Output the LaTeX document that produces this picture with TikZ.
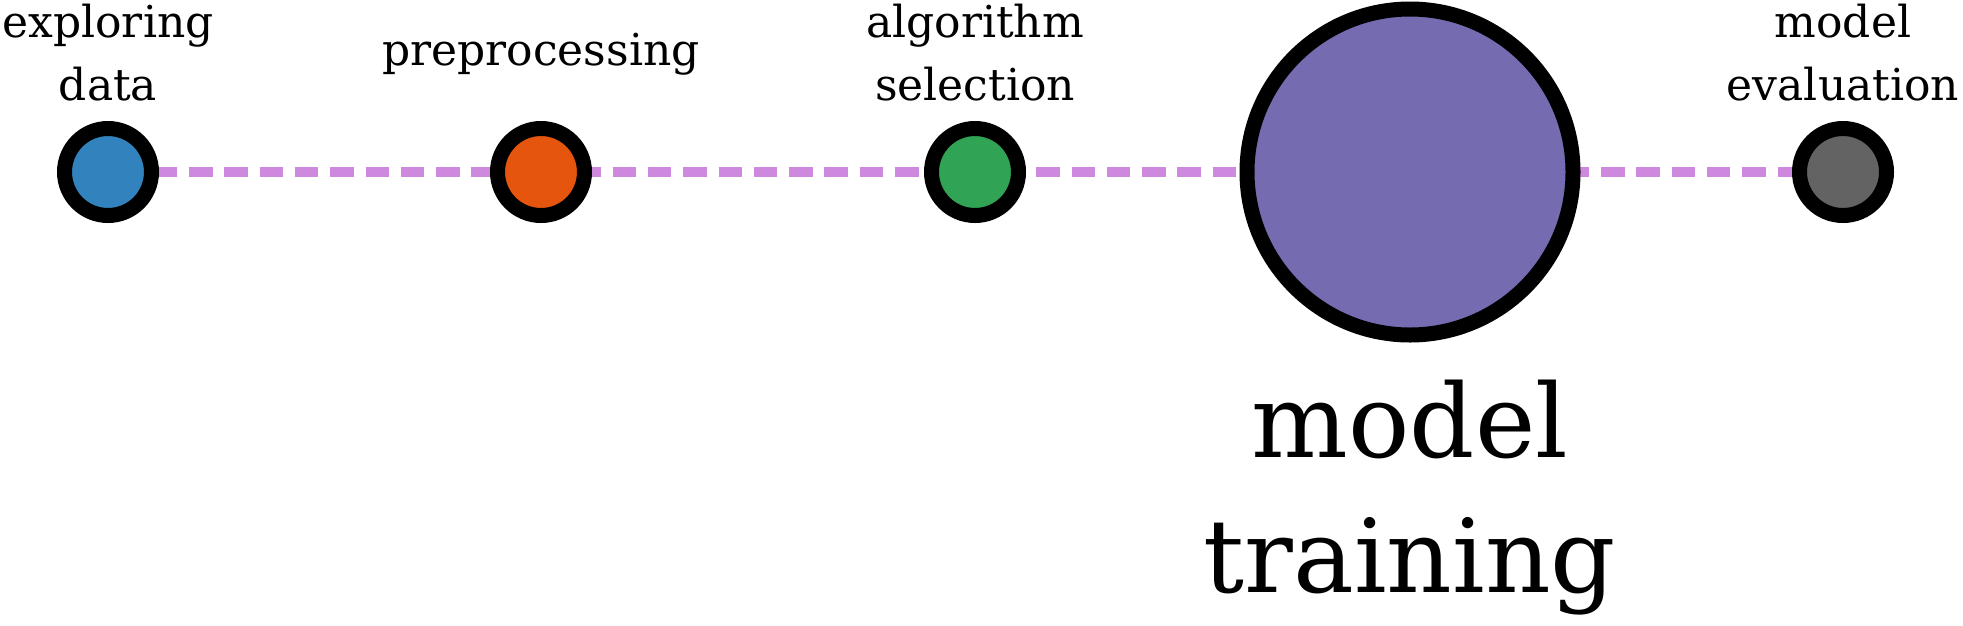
\documentclass[tikz,border=0pt]{standalone}
\usepackage{fontspec}
\setmainfont{DejaVu Serif}
\usetikzlibrary{backgrounds}
\definecolor{cblue}{HTML}{3182BD}
\definecolor{corange}{HTML}{E6550D}
\definecolor{cgreen}{HTML}{31A354}
\definecolor{cpurple}{HTML}{756BB1}
\definecolor{cgray}{HTML}{636363}
\definecolor{clink}{HTML}{CE89DE}
\begin{document}
\begin{tikzpicture}[x=1pt,y=-1pt,
  dot/.style={circle,draw=black,line width=15pt,inner sep=0pt,minimum size=87pt},
  bigdot/.style={dot,minimum size=326pt},
  lbl/.style={font=\fontsize{44}{63}\selectfont,align=center,anchor=base,inner sep=0pt},
  biglbl/.style={font=\fontsize{102}{135}\selectfont,align=center,anchor=base,inner sep=0pt},
  link/.style={draw=clink,line width=10pt,dash pattern=on 23.5pt off 11.8pt,dash phase=24.9pt}]
\useasboundingbox (0,0) rectangle (1963,625);
\node[dot,fill=cblue] (c1) at (108,172) {};
\node[dot,fill=corange] (c2) at (541,172) {};
\node[dot,fill=cgreen] (c3) at (975,172) {};
\node[bigdot,fill=cpurple] (c4) at (1410,172) {};
\node[dot,fill=cgray] (c5) at (1843,172) {};
\begin{pgfonlayer}{background}
\fill[white] (0,0) rectangle (1963,625);
\draw[link] (c1.center) -- (c5.center);
\end{pgfonlayer}
\node[lbl] (t1) at (108,100) {exploring\\data};
\node[lbl] (t2) at (541,65) {preprocessing};
\node[lbl] (t3) at (975,100) {algorithm\\selection};
\node[biglbl] (t4) at (1410,592) {model\\training};
\node[lbl] (t5) at (1843,100) {model\\evaluation};
\end{tikzpicture}
\end{document}
